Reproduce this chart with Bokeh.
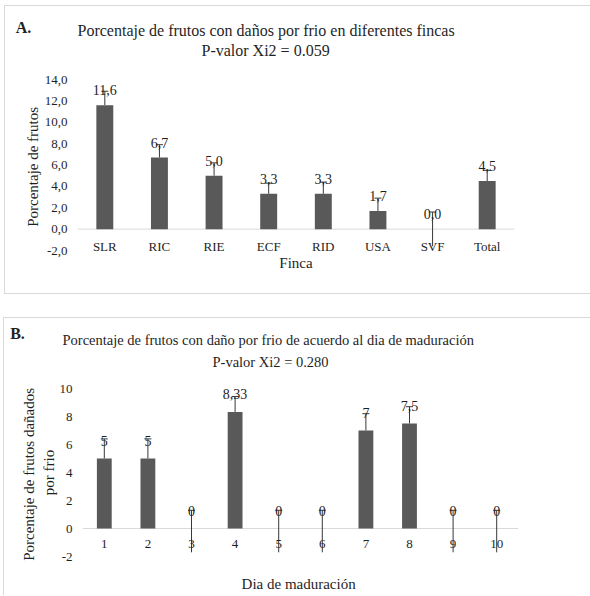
from bokeh.plotting import figure
from bokeh.models import (ColumnDataSource, FactorRange, Range1d, FixedTicker,
                          Whisker, TeeHead, Span, Label, Title)
from bokeh.layouts import column
from bokeh.embed import file_html
from bokeh.resources import INLINE
from bokeh.core.properties import value

# ---------------- data ----------------
fincas = ["SLR", "RIC", "RIE", "ECF", "RID", "USA", "SVF", "Total"]
pct_fincas = [11.6, 6.7, 5.0, 3.3, 3.3, 1.7, 0.0, 4.5]
err_fincas_up = [1.3, 1.2, 1.2, 1.0, 1.1, 1.2, 1.6, 1.0]
err_fincas_down = [0, 0, 0, 0, 0, 0, 1.6, 0]

dias = ["1", "2", "3", "4", "5", "6", "7", "8", "9", "10"]
pct_dias = [5, 5, 0, 8.33, 0, 0, 7, 7.5, 0, 0]
err_dias_up = [1.4, 1.4, 1.3, 1.1, 1.3, 1.3, 1.2, 1.2, 1.3, 1.3]
err_dias_down = [0, 0, 1.7, 0, 1.7, 1.7, 0, 0, 1.7, 1.7]

ticks_a = [-2, 0, 2, 4, 6, 8, 10, 12, 14]
tick_labels_a = ["-2,0", "0,0", "2,0", "4,0", "6,0", "8,0", "10,0", "12,0", "14,0"]
ticks_b = [-2, 0, 2, 4, 6, 8, 10]
tick_labels_b = ["-2", "0", "2", "4", "6", "8", "10"]

title_a = ["Porcentaje de frutos con daños por frio  en diferentes fincas", "P-valor Xi2  = 0.059"]
title_b = ["Porcentaje  de frutos con daño por frio  de acuerdo al  dia  de maduración", "P-valor  Xi2  =  0.280"]

FONT = "Liberation Serif"
TXT = "#1f1f1f"
BAR = "#595959"
ERR = "#383838"
LINE = "#d9d9d9"


def panel_border(left, top, bottom, width):
    g = f"linear-gradient({LINE},{LINE})"
    return {
        "background-image": f"{g}, {g}, {g}",
        "background-size": f"1px {bottom - top + 1}px, {width}px 1px, {width}px 1px",
        "background-position": f"{left}px {top}px, {left}px {top}px, {left}px {bottom}px",
        "background-repeat": "no-repeat",
    }


def style_panel(p, x_label, y_label, x_standoff, x_label_standoff, y_label_standoff):
    p.xgrid.grid_line_color = None
    p.ygrid.grid_line_color = None
    p.outline_line_color = None
    p.background_fill_color = "white"
    p.border_fill_color = None
    for ax in (p.xaxis, p.yaxis):
        ax.axis_line_color = None
        ax.major_tick_line_color = None
        ax.minor_tick_line_color = None
        ax.major_tick_out = 0
        ax.major_tick_in = 0
        ax.minor_tick_out = 0
        ax.minor_tick_in = 0
        ax.major_label_text_font = FONT
        ax.major_label_text_font_size = "13px"
        ax.major_label_text_color = TXT
        ax.axis_label_text_font = FONT
        ax.axis_label_text_font_size = "15px"
        ax.axis_label_text_font_style = "normal"
        ax.axis_label_text_color = TXT
    p.xaxis.axis_label = x_label
    p.xaxis.major_label_standoff = x_standoff
    p.xaxis.axis_label_standoff = x_label_standoff
    p.yaxis.axis_label = y_label
    p.yaxis.major_label_standoff = 10
    p.yaxis.axis_label_standoff = y_label_standoff
    p.add_layout(Span(location=0, dimension="width", line_color=LINE,
                      line_width=1, level="underlay"))


def add_bars(p, cats, vals, up, down, labels, bar_width, label_offset):
    src = ColumnDataSource(dict(
        x=cats, y=vals,
        upper=[v + u for v, u in zip(vals, up)],
        lower=[v - d for v, d in zip(vals, down)],
        label=labels,
    ))
    p.vbar(x="x", top="y", width=bar_width, source=src,
           fill_color=BAR, line_color=None)
    p.add_layout(Whisker(source=src, base="x", upper="upper", lower="lower",
                         dimension="height", line_color=ERR, line_width=1,
                         upper_head=TeeHead(size=7, line_color=ERR, line_width=1),
                         lower_head=None))
    p.text(x="x", y="y", text="label", source=src, text_align="center",
           text_baseline="middle", y_offset=label_offset,
           text_font=value(FONT), text_font_size="14px", text_color=TXT)


def add_titles(p, lines, size, offsets, standoffs, spacer_standoff):
    # spacer row between the frame and the second title line
    p.add_layout(Title(text=" ", standoff=spacer_standoff, text_font=FONT,
                       text_font_size=size, text_font_style="normal"), "above")
    for txt, off, st in ((lines[1], offsets[1], standoffs[1]),
                         (lines[0], offsets[0], standoffs[0])):
        p.add_layout(Title(text=txt, align="left", offset=off, standoff=st,
                           text_font=FONT, text_font_size=size,
                           text_font_style="normal", text_color=TXT), "above")


# the letter sits in the outermost "above" row; its screen y is measured upward
# from that row (the top edge of the first title line's row)
def add_letter(p, fl, row_top, xp, yp, text):
    p.add_layout(Label(x=xp - fl, y=row_top - yp, x_units="screen", y_units="screen",
                       text=text, text_align="center", text_baseline="middle",
                       text_font=FONT, text_font_size="16px",
                       text_font_style="bold", text_color=TXT), "above")


W = 590
# ---------------- panel A ----------------
HA = 300
FLA, FTA, FRA, FBA = 77, 79, 514, 250
pA = figure(width=W, height=HA, x_range=FactorRange(*fincas), title=None,
            y_range=Range1d(-2, 14), output_backend="svg", toolbar_location=None,
            min_border_left=FLA, min_border_right=W - FRA, min_border_top=FTA,
            min_border_bottom=HA - FBA)
pA.frame_align = False
pA.styles = panel_border(4, 5, 293, 590)
style_panel(pA, "Finca", "Porcentaje  de frutos", -12, -2, 1)
pA.yaxis.ticker = FixedTicker(ticks=ticks_a)
pA.yaxis.major_label_overrides = dict(zip(ticks_a, tick_labels_a))
add_bars(pA, fincas, pct_fincas, err_fincas_up, err_fincas_down,
         [f"{v:.1f}".replace(".", ",") for v in pct_fincas], 0.31, -15)
add_titles(pA, title_a, "16px", (0, 124), (1, 0), 2)
add_letter(pA, FLA, 17, 23, 25, "A.")

# ---------------- panel B ----------------
HB = 295
OB = HA  # page offset of panel B
FLB, FTB, FRB, FBB = 82, 388 - OB, 518, 556 - OB
pB = figure(width=W, height=HB, x_range=FactorRange(*dias), title=None,
            y_range=Range1d(-2, 10), output_backend="svg", toolbar_location=None,
            min_border_left=FLB, min_border_right=W - FRB, min_border_top=FTB,
            min_border_bottom=HB - FBB)
pB.frame_align = False
pB.styles = panel_border(3, 317 - OB, 300, 590)
style_panel(pB, "Dia  de maduración", "Porcentaje  de frutos dañados\npor frio", -17, 25, 0)
pB.yaxis.ticker = FixedTicker(ticks=ticks_b)
pB.yaxis.major_label_overrides = dict(zip(ticks_b, tick_labels_b))
add_bars(pB, dias, pct_dias, err_dias_up, err_dias_down,
         [f"{v:g}".replace(".", ",") for v in pct_dias], 0.34, -18)
add_titles(pB, title_b, "14.5px", (-20, 130), (8, 0), 1)
add_letter(pB, FLB, 25, 17, 333 - OB, "B.")

layout = column(pA, pB, spacing=0)
open("out.html", "w").write(file_html(layout, INLINE))
